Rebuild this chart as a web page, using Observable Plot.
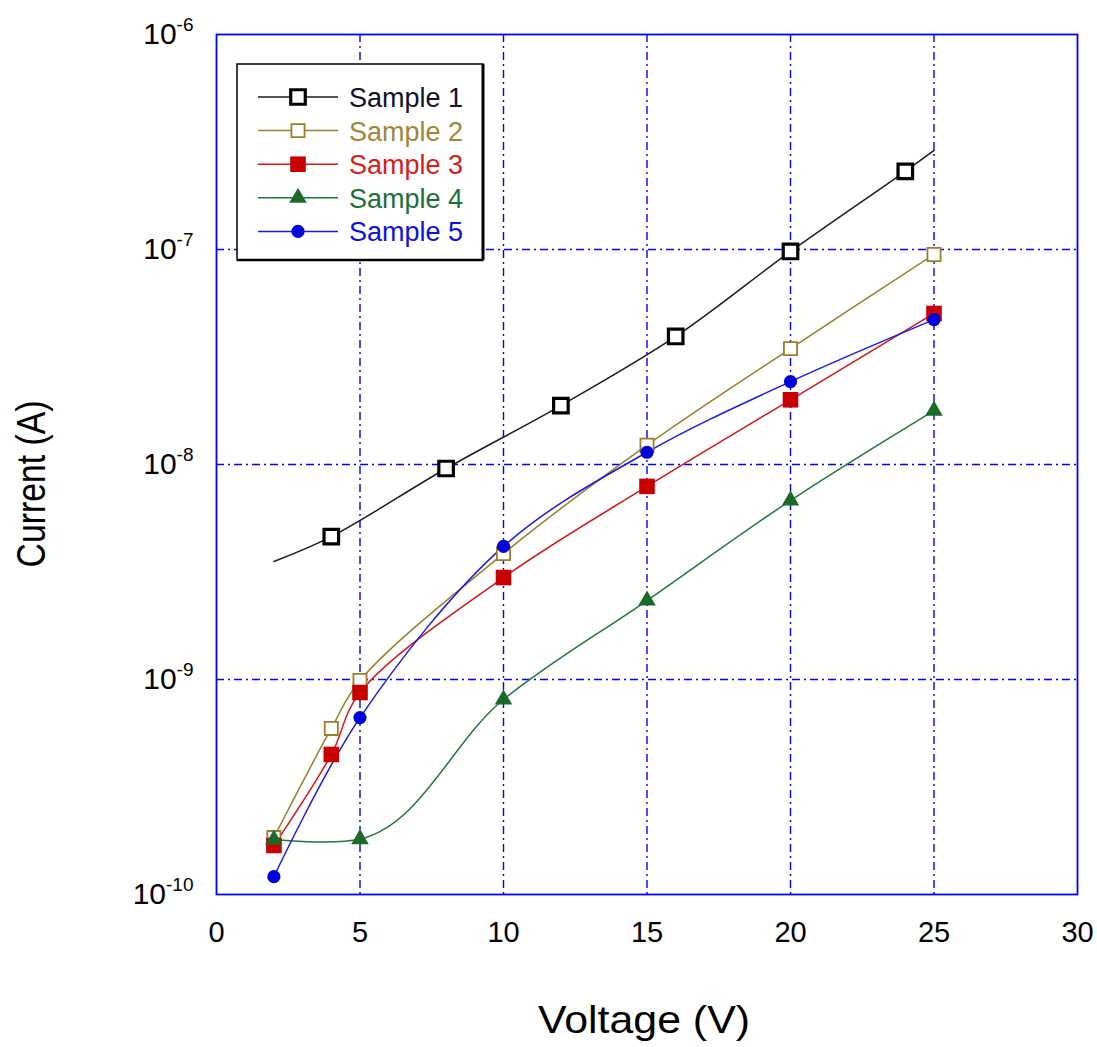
<!DOCTYPE html>
<html><head><meta charset="utf-8">
<script src="https://cdn.jsdelivr.net/npm/d3@7"></script>
<script src="https://cdn.jsdelivr.net/npm/@observablehq/plot@0.6"></script>
<style>
html,body{margin:0;padding:0;background:#fff;}
#chart{position:relative;width:1097px;height:1047px;font-family:"Liberation Sans",Arial,sans-serif;}
</style></head><body><div id="chart"></div>
<script>
// ---- data ----
const sampleNames = ["Sample 1","Sample 2","Sample 3","Sample 4","Sample 5"];
const s1Voltage = [2, 4, 8, 12, 16, 20, 24, 25];
const s1Current = [3.54e-9, 4.62e-9, 9.58e-9, 1.88e-8, 3.94e-8, 9.79e-8, 2.31e-7, 2.89e-7];
const s1MarkedVoltage = [4, 8, 12, 16, 20, 24];
const s2Voltage = [2, 4, 5, 10, 15, 20, 25];
const s2Current = [1.84e-10, 5.92e-10, 9.89e-10, 3.85e-9, 1.23e-8, 3.46e-8, 9.48e-8];
const s3Voltage = [2, 4, 5, 10, 15, 20, 25];
const s3Current = [1.69e-10, 4.48e-10, 8.70e-10, 2.98e-9, 7.91e-9, 2.00e-8, 5.04e-8];
const s4Voltage = [2, 5, 10, 15, 20, 25];
const s4Current = [1.80e-10, 1.81e-10, 8.07e-10, 2.33e-9, 6.80e-9, 1.78e-8];
const s5Voltage = [2, 5, 10, 15, 20, 25];
const s5Current = [1.21e-10, 6.65e-10, 4.16e-9, 1.14e-8, 2.43e-8, 4.72e-8];
const xTicks = [0, 5, 10, 15, 20, 25, 30];
const yTicks = [1e-10, 1e-9, 1e-8, 1e-7, 1e-6];
const yTickBase = "10";
const yTickExponents = ["-10", "-9", "-8", "-7", "-6"];
const xLabel = "Voltage (V)";
const yLabel = "Current (A)";

// ---- styles ----
const styles = [
  {line: "#1c1c1c", stroke: "#000000", fill: "white", symbol: "square", r: 8.2, sw: 3.2, text: "#10102a", curve: "catmull-rom", tension: 0.5},
  {line: "#9a7d2c", stroke: "#9a7d2c", fill: "white", symbol: "square", r: 7.4, sw: 1.8, text: "#a0863a", curve: "catmull-rom", tension: 0.5},
  {line: "#d41818", stroke: "#c80000", fill: "#c80000", symbol: "square", r: 8.8, sw: 0, text: "#d42020", curve: "catmull-rom", tension: 0.5},
  {line: "#23763a", stroke: "#1c6a2a", fill: "#1c6a2a", symbol: "triangle", r: 6.5, sw: 0, text: "#1e6e3c", curve: "catmull-rom", tension: 1},
  {line: "#1a1ae6", stroke: "#0000dd", fill: "#0000dd", symbol: "circle", r: 6.6, sw: 0, text: "#1010e0", curve: "catmull-rom", tension: 0.5}
];

const series = [
  {x: s1Voltage, y: s1Current, mx: s1MarkedVoltage},
  {x: s2Voltage, y: s2Current},
  {x: s3Voltage, y: s3Current},
  {x: s4Voltage, y: s4Current},
  {x: s5Voltage, y: s5Current}
].map((s, i) => {
  const pts = s.x.map((v, j) => ({voltage: v, current: s.y[j], name: sampleNames[i]}));
  const marks = s.mx ? pts.filter(p => s.mx.includes(p.voltage)) : pts;
  return {pts, marks};
});

const gridColor = "#0000ff";
const marks = [
  Plot.gridX(xTicks.slice(1, -1), {stroke: gridColor, strokeOpacity: 1, strokeWidth: 1.4, strokeDasharray: "8,4,2,4"}),
  Plot.gridY(yTicks.slice(1, -1), {stroke: gridColor, strokeOpacity: 1, strokeWidth: 1.4, strokeDasharray: "8,4,2,4"}),
];
series.forEach((s, i) => {
  marks.push(Plot.line(s.pts, {x: "voltage", y: "current", stroke: styles[i].line, strokeWidth: 1.5,
    curve: styles[i].curve, tension: styles[i].tension}));
});
series.forEach((s, i) => {
  const st = styles[i];
  marks.push(Plot.dot(s.marks, {x: "voltage", y: "current", symbol: st.symbol, r: st.r,
    fill: st.fill, stroke: st.sw ? st.stroke : "none", strokeWidth: st.sw}));
});
marks.push(Plot.frame({stroke: gridColor, strokeWidth: 1.8}));
marks.push(Plot.axisX(xTicks, {tickSize: 0, tickPadding: 27, fontSize: 29, label: null, tickFormat: d => String(d)}));
marks.push(Plot.axisY(yTicks, {tickSize: 0, tickPadding: 23, fontSize: 30, label: null,
  tickFormat: (d, i) => yTickBase + "^" + yTickExponents[yTicks.indexOf(d)]}));

const svg = Plot.plot({
  width: 1097, height: 1047,
  marginLeft: 216, marginRight: 20, marginTop: 34, marginBottom: 153,
  style: {fontFamily: "'Liberation Sans', Arial, sans-serif", background: "white", color: "black"},
  x: {domain: [0, 30]},
  y: {type: "log", domain: [1e-10, 1e-6]},
  marks
});

// superscript exponents on y tick labels
d3.select(svg).selectAll('g[aria-label="y-axis tick label"] text').each(function () {
  const t = d3.select(this);
  const [base, exp] = t.text().split("^");
  t.text(null);
  t.append("tspan").text(base);
  t.append("tspan").attr("font-size", 19).attr("dy", -13).text(exp);
});

// axis titles
const s = d3.select(svg);
s.append("text").attr("x", 644).attr("y", 1033).attr("text-anchor", "middle")
  .attr("font-size", 39).attr("textLength", 212).attr("lengthAdjust", "spacingAndGlyphs")
  .attr("fill", "black").text(xLabel);
s.append("text").attr("transform", "translate(45,484) rotate(-90)").attr("text-anchor", "middle")
  .attr("font-size", 40).attr("textLength", 167).attr("lengthAdjust", "spacingAndGlyphs")
  .attr("fill", "black").text(yLabel);

const chart = document.getElementById("chart");
chart.appendChild(svg);

// legend overlay
const lg = d3.create("svg").attr("width", 252).attr("height", 202)
  .style("position", "absolute").style("left", "236px").style("top", "63px")
  .style("font-family", "'Liberation Sans', Arial, sans-serif");
lg.append("rect").attr("x", 1).attr("y", 1).attr("width", 246).attr("height", 196)
  .attr("fill", "white").attr("stroke", "black").attr("stroke-width", 1.5);
lg.append("line").attr("x1", 247).attr("x2", 247).attr("y1", 1).attr("y2", 197).attr("stroke", "black").attr("stroke-width", 3);
lg.append("line").attr("x1", 1).attr("x2", 247).attr("y1", 197).attr("y2", 197).attr("stroke", "black").attr("stroke-width", 2.5);
const sym = {square: d3.symbolSquare, triangle: d3.symbolTriangle, circle: d3.symbolCircle};
sampleNames.forEach((name, i) => {
  const st = styles[i];
  const y = 34 + i * 33.6;
  const g = lg.append("g");
  g.append("line").attr("x1", 22).attr("x2", 102).attr("y1", y).attr("y2", y).attr("stroke", st.line).attr("stroke-width", 1.5);
  g.append("path").attr("d", d3.symbol(sym[st.symbol], Math.PI * st.r * st.r)())
    .attr("transform", `translate(62,${y})`)
    .attr("fill", st.fill).attr("stroke", st.sw ? st.stroke : "none").attr("stroke-width", st.sw);
  g.append("text").attr("x", 113).attr("y", y + 10).attr("font-size", 27).attr("fill", st.text).text(name);
});
chart.appendChild(lg.node());
</script>
</body></html>
